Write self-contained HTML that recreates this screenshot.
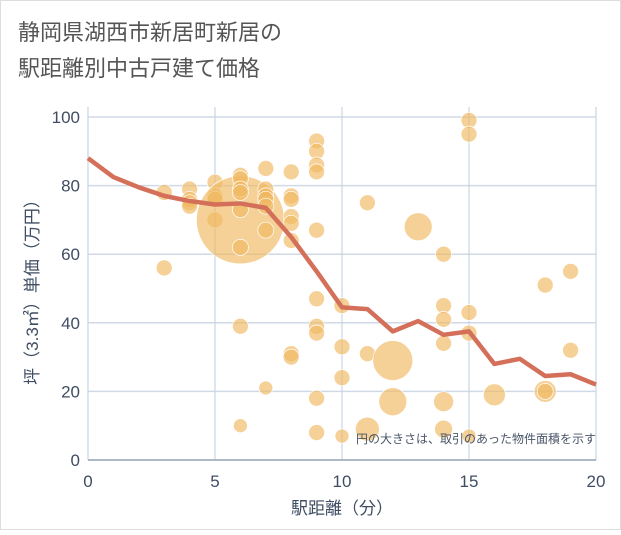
<!DOCTYPE html>
<html><head><meta charset="utf-8"><style>
body{margin:0;background:#fff;}
svg text{font-family:"Liberation Sans","Noto Sans CJK JP",sans-serif;}
</style></head><body>
<svg id="chart" width="621" height="530" xmlns="http://www.w3.org/2000/svg">
<rect x="0.5" y="0.5" width="620" height="529" fill="#fff" stroke="#ddd"/>
<text x="18" y="40" font-size="22" fill="#555">静岡県湖西市新居町新居の</text>
<text x="18" y="76" font-size="22" fill="#555">駅距離別中古戸建て価格</text>
<g id="grid"></g><g id="bubbles"></g><g id="line"></g><g id="axes"></g>
<text x="596" y="443" font-size="12" fill="#4a5568" text-anchor="end">円の大きさは、取引のあった物件面積を示す</text>
<text x="342" y="514" font-size="17" fill="#3f4d63" text-anchor="middle">駅距離（分）</text>
<text transform="translate(38,288) rotate(-90)" font-size="17" fill="#3f4d63" text-anchor="middle">坪（3.3㎡）単価（万円）</text>
</svg>
<script>
const xTicks=[0,5,10,15,20];
const yTicks=[0,20,40,60,80,100];
const bubbleX=[3,3,4,4,4,4,5,5,5,5,6,6,6,6,6,6,6,6,6,7,7,7,7,7,7,7,8,8,8,8,8,8,8,8,9,9,9,9,9,9,9,9,9,9,10,10,10,10,11,11,11,12,12,13,14,14,14,14,14,14,15,15,15,15,15,16,18,18,18,19,19];
const bubbleY=[78,56,79,76,75,74,81,77,70,76,70,83,82,79,78,73,62,39,10,85,79,77,76,74,67,21,84,77,76,71,69,64,31,30,93,90,86,84,67,47,39,37,18,8,45,33,24,7,75,31,9,29,17,68,60,45,41,34,17,9,99,95,43,37,7,19,51,20,20,55,32];
const bubbleR=[8,8,8,8,8,8,8,8,8,8,44,8,8,8,8,8,8,8,7,8,8,8,8,8,8,7,8,8,8,8,8,8,8,8,8,8,8,8,8,8,8,8,8,8,8,8,8,7,8,8,12,20,14,14,8,8,8,8,10,9,8,8,8,8,7,11,8,11,8,8,8];
const avgX=[0,1,2,3,4,5,6,7,8,9,10,11,12,13,14,15,16,17,18,19,20];
const avgY=[88,82.5,79.5,77,75.5,74.5,74.8,73.5,65,55,44.5,44,37.5,40.5,36.5,37.5,28,29.5,24.5,25,22];
const NS="http://www.w3.org/2000/svg";
const X0=88,X1=596,Y0=460,Y1=117;
const sx=v=>X0+(X1-X0)*v/20, sy=v=>Y0-(Y0-Y1)*v/100;
function mk(t,a,p){const e=document.createElementNS(NS,t);for(const k in a)e.setAttribute(k,a[k]);p.appendChild(e);return e;}
const grid=document.getElementById('grid'),axes=document.getElementById('axes');
yTicks.forEach(v=>{const l=mk('line',{x1:X0,x2:X1,y1:sy(v),y2:sy(v),stroke:'#d0dae6','stroke-width':1.5},grid);


const t=mk('text',{x:X0-8,y:sy(v)+6,'font-size':17,fill:'#3f4d63','text-anchor':'end'},axes);t.textContent=v;

});
xTicks.forEach(v=>{const l=mk('line',{x1:sx(v),x2:sx(v),y1:Y1-10,y2:Y0,stroke:'#c8d4e2','stroke-width':1.2},grid);


const t=mk('text',{x:sx(v),y:Y0+27,'font-size':17,fill:'#3f4d63','text-anchor':'middle'},axes);t.textContent=v;

});
const ax=mk('line',{x1:X0,x2:X1,y1:Y0,y2:Y0,stroke:'#9aa8b8','stroke-width':1.5},axes);


const bg=document.getElementById('bubbles');
bubbleX.forEach((x,i)=>{const c=mk('circle',{cx:sx(x),cy:sy(bubbleY[i]),r:bubbleR[i],fill:'rgba(240,184,96,0.65)',stroke:'#fff','stroke-width':0.7},bg);

});
const p=mk('polyline',{points:avgX.map((x,i)=>sx(x)+','+sy(avgY[i])).join(' '),fill:'none',stroke:'#d4705a','stroke-width':4.5,'stroke-linejoin':'round'},document.getElementById('line'));


</script>
</body></html>
